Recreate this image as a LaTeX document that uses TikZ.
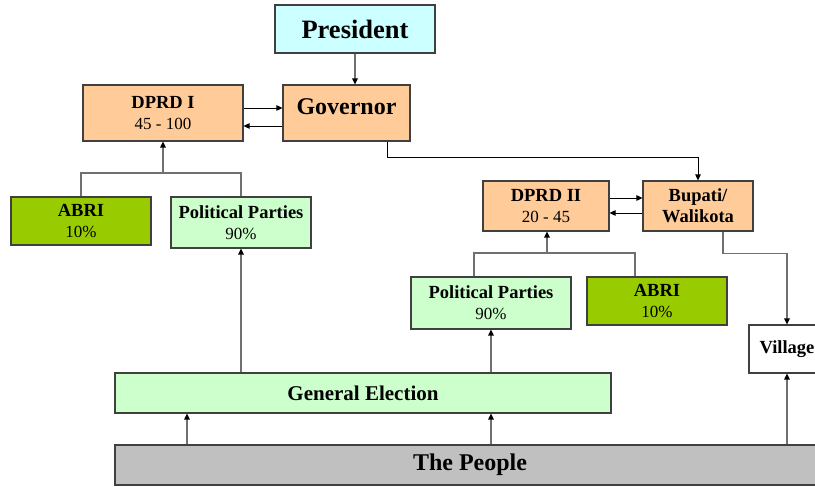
\documentclass[tikz,border=0pt]{standalone}
\usepackage{fontspec}
\setmainfont{Liberation Serif}
\usetikzlibrary{arrows.meta,calc}
\definecolor{orangebox}{HTML}{FFCC99}
\definecolor{greenbox}{HTML}{CCFFCC}
\definecolor{abribox}{HTML}{99CC00}
\definecolor{cyanbox}{HTML}{CCFFFF}
\definecolor{graybox}{HTML}{C0C0C0}
\definecolor{linegray}{HTML}{707070}
\begin{document}
\begin{tikzpicture}[x=1pt,y=-1pt,
  box/.style={draw=black!75, line width=1.1pt, inner sep=0pt, align=center,
    font=\bfseries\fontsize{18.5}{21}\selectfont},
  vline/.style={draw=linegray, line width=1.5pt},
  varr/.style={vline, -{Triangle[length=6pt,width=5.5pt,color=black]}},
  harr/.style={draw=black, line width=0.9pt, -{Triangle[length=6pt,width=5.5pt,color=black]}}]
\useasboundingbox (0,0) rectangle (815,487);
\clip (0,0) rectangle (815,487);

% nodes
\node[box, fill=cyanbox, minimum width=160pt, minimum height=48pt,
  font=\bfseries\fontsize{26.5}{30}\selectfont] (pres) at (355,29) {President};
\node[box, fill=orangebox, minimum width=127pt, minimum height=56pt,
  font=\bfseries\fontsize{24}{28}\selectfont] (gov) at (346.5,113) {\raisebox{13pt}{Governor}};
\node[box, fill=orangebox, minimum width=160pt, minimum height=56pt] (dprd1) at (163,113)
  {DPRD I\\[0pt]{\mdseries\fontsize{17}{21}\selectfont 45 - 100}};
\node[box, fill=abribox, minimum width=140pt, minimum height=48pt] (abri1) at (81,221)
  {ABRI\\[0pt]{\mdseries\fontsize{17}{21}\selectfont 10\%}};
\node[box, fill=greenbox, minimum width=140pt, minimum height=51pt] (pp1) at (241,222.5)
  {Political Parties\\[0pt]{\mdseries\fontsize{17}{21}\selectfont 90\%}};
\node[box, fill=orangebox, minimum width=126pt, minimum height=50pt] (dprd2) at (546,206)
  {DPRD II\\[0pt]{\mdseries\fontsize{17}{21}\selectfont 20 - 45}};
\node[box, fill=orangebox, minimum width=110pt, minimum height=50pt] (bup) at (698,206)
  {Bupati/\\Walikota};
\node[box, fill=greenbox, minimum width=160pt, minimum height=52pt] (pp2) at (491,303)
  {Political Parties\\[0pt]{\mdseries\fontsize{17}{21}\selectfont 90\%}};
\node[box, fill=abribox, minimum width=140pt, minimum height=48pt] (abri2) at (657,301)
  {ABRI\\[0pt]{\mdseries\fontsize{17}{21}\selectfont 10\%}};
\node[box, fill=white, minimum width=76pt, minimum height=48pt] (vil) at (787,349) {Village};
\node[box, fill=greenbox, minimum width=496pt, minimum height=40pt,
  font=\bfseries\fontsize{21}{24}\selectfont] (ge) at (363,393) {General Election};
\node[box, fill=graybox, minimum width=710pt, minimum height=40pt,
  font=\bfseries\fontsize{24}{28}\selectfont] (people) at (470,465) {The People};

% helper coordinates
\coordinate (j1) at (163,173);
\coordinate (j2) at (547,253);
\coordinate (c187) at (187,0);

% connectors
\draw[varr] (pres.south) -- (pres.south |- gov.north);
\draw[harr] ($(dprd1.east)+(0,-5)$) -- ($(gov.west)+(0,-5)$);
\draw[harr] ($(gov.west)+(0,13)$) -- ($(dprd1.east)+(0,13)$);
\draw[harr] ($(gov.south)+(40.5,0)$) -- ++(0,16) -| (bup.north);
\draw[harr] ($(dprd2.east)+(0,-8)$) -- ($(bup.west)+(0,-8)$);
\draw[harr] ($(bup.west)+(0,7)$) -- ($(dprd2.east)+(0,7)$);
\draw[varr] ($(bup.south)+(25,0)$) -- ++(0,22) -| (vil.north);

\draw[vline] (abri1.north) |- (j1) -| (pp1.north);
\draw[varr] (j1) -- (dprd1.south);
\draw[vline] ($(pp2.north)+(-17,0)$) |- (j2) -| ($(abri2.north)+(-22,0)$);
\draw[varr] (j2) -- (j2 |- dprd2.south);

\draw[varr] (pp1.south |- ge.north) -- (pp1.south);
\draw[varr] (pp2.south |- ge.north) -- (pp2.south);
\draw[varr] (people.north -| c187) -- (ge.south -| c187);
\draw[varr] (people.north -| pp2.south) -- (ge.south -| pp2.south);
\draw[varr] (people.north -| vil.south) -- (vil.south);
\end{tikzpicture}
\end{document}
